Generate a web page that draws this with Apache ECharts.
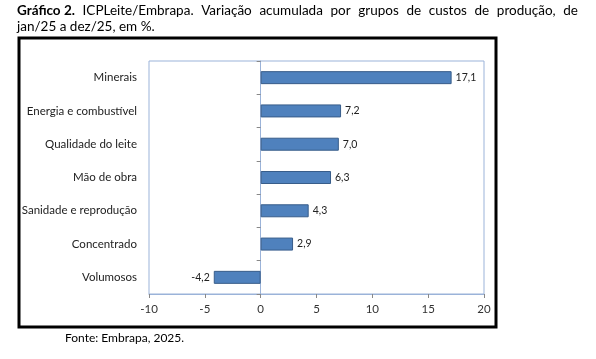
<!DOCTYPE html>
<html><head><meta charset="utf-8">
<script src="https://cdn.jsdelivr.net/npm/echarts@6/dist/echarts.min.js"></script>
<style>html,body{margin:0;padding:0;background:#fff}#c{width:596px;height:359px}</style>
</head><body><div id="c"></div>
<script>
const categories = ['Minerais','Energia e combustível','Qualidade do leite','Mão de obra','Sanidade e reprodução','Concentrado','Volumosos'];
const values = [17.1, 7.2, 7.0, 6.3, 4.3, 2.9, -4.2];
const xTicks = [-10, -5, 0, 5, 10, 15, 20];
const titleBold = 'Gráfico 2.';
const titleLine1 = 'ICPLeite/Embrapa. Variação acumulada por grupos de custos de produção, de';
const titleLine2 = 'jan/25 a dez/25, em %.';
const source = 'Fonte: Embrapa, 2025.';

const FONT = 'Lato';
const TSIZE = 13.5;

// justified first title line
const ctx = document.createElement('canvas').getContext('2d');
const words = [{t:titleBold, b:true}].concat(titleLine1.split(' ').map(t => ({t, b:false})));
const widths = words.map(w => { ctx.font = (w.b ? 'bold ' : '') + TSIZE + 'px ' + FONT; return ctx.measureText(w.t).width; });
const x0 = 17, x1 = 578;
const total = widths.reduce((a, b) => a + b, 0);
const gap = (x1 - x0 - total) / (words.length - 1);
const titleGraphics = [];
let cx = x0;
words.forEach((w, i) => {
  titleGraphics.push({type:'text', x:cx, y:4, style:{text:w.t, fontFamily:FONT, fontSize:TSIZE, fontWeight:w.b ? 'bold' : 'normal', fill:'#000'}});
  cx += widths[i] + gap;
});

const chart = echarts.init(document.getElementById('c'));
chart.setOption({
  animation: false,
  textStyle: {fontFamily: FONT},
  graphic: titleGraphics.concat([
    {type:'rect', shape:{x:19, y:38, width:477, height:289}, style:{fill:'none', stroke:'#000', lineWidth:3}},
    {type:'text', x:17, y:20, style:{text:titleLine2, fontFamily:FONT, fontSize:TSIZE, fill:'#000'}},
    {type:'text', x:65, y:332, style:{text:source, fontFamily:FONT, fontSize:12, fill:'#000'}}
  ]),
  grid: {left:149, right:112, top:61, bottom:65, show:true, borderColor:'#9bb3d9', borderWidth:1, backgroundColor:'transparent'},
  xAxis: {
    type:'value', min:xTicks[0], max:xTicks[xTicks.length-1], interval:5,
    axisLine:{show:true, onZero:false, lineStyle:{color:'#9bb3d9'}},
    axisTick:{show:true, length:4, lineStyle:{color:'#888'}},
    splitLine:{show:false},
    axisLabel:{color:'#333', fontSize:11.5, fontFamily:FONT, margin:9, formatter: v => String(v)}
  },
  yAxis: [
    {type:'category', data:categories, inverse:true,
     axisLine:{show:false, onZero:false}, axisTick:{show:false},
     axisLabel:{color:'#222', fontSize:11.5, fontFamily:FONT, margin:12}},
    {type:'category', data:categories, inverse:true, position:'left',
     axisLine:{show:true, onZero:true, lineStyle:{color:'#9bb3d9'}},
     axisTick:{show:true, length:4, lineStyle:{color:'#888'}},
     axisLabel:{show:false}}
  ],
  series: [{
    type:'bar', yAxisIndex:0, barWidth:13,
    data: values.map(v => ({value:v, label:{position: v < 0 ? 'left' : 'right'}})),
    itemStyle:{color:'#4f81bd', borderColor:'#385d8a', borderWidth:1},
    label:{show:true, color:'#222', fontSize:10.5, fontFamily:FONT, distance:4,
      formatter: p => p.value.toFixed(1).replace('.', ',')}
  }]
});
</script></body></html>
